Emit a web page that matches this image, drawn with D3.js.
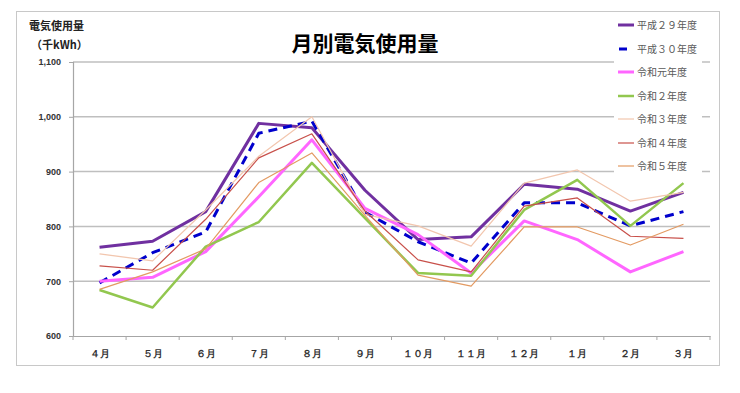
<!DOCTYPE html>
<html><head><meta charset="utf-8">
<script src="https://cdn.jsdelivr.net/npm/d3@7/dist/d3.min.js"></script>
<style>
html,body{margin:0;padding:0;background:#fff;}
svg{display:block;font-family:"Noto Sans CJK JP","Noto Sans",sans-serif;}
</style></head>
<body><svg id="c" width="740" height="393"></svg>
<script>
const months = ["４月","５月","６月","７月","８月","９月","１０月","１１月","１２月","１月","２月","３月"];
const yTicks = [600,700,800,900,1000,1100];
const seriesNames = ["平成２９年度","平成３０年度","令和元年度","令和２年度","令和３年度","令和４年度","令和５年度"];
const h29 = [762,773,827,988,980,866,776,781,877,868,828,862];
const h30 = [697,752,790,970,992,826,772,733,843,843,801,827];
const r1  = [700,707,754,854,958,833,785,715,810,776,717,754];
const r2  = [684,652,763,808,916,815,715,710,830,885,801,879];
const r3  = [750,737,830,928,1000,822,801,764,879,903,846,862];
const r4  = [728,720,813,925,969,828,739,717,837,852,782,778];
const r5  = [685,717,759,880,934,820,711,691,799,799,766,804];

const seriesValues = [h29,h30,r1,r2,r3,r4,r5];
const styles = [
  {color:"#7030A0", w:3, dash:null},
  {color:"#0000CC", w:3, dash:"9,6"},
  {color:"#FF66FF", w:3, dash:null},
  {color:"#92C74F", w:2.5, dash:null},
  {color:"#F2C6AE", w:1.2, dash:null},
  {color:"#C8504A", w:1.2, dash:null},
  {color:"#E39A62", w:1.2, dash:null}
];

const svg = d3.select("#c");
// outer border
svg.append("rect").attr("x",16.5).attr("y",11.5).attr("width",703).attr("height",354)
  .attr("fill","#fff").attr("stroke","#C8C8C8").attr("stroke-width",1);

const x = d3.scaleBand().domain(months).range([73,710]);
const y = d3.scaleLinear().domain([600,1100]).range([336,62]);

// grid
svg.append("g").selectAll("line").data(yTicks.filter(d=>d>600)).join("line")
  .attr("x1",73).attr("x2",710).attr("y1",d=>y(d)).attr("y2",d=>y(d))
  .attr("stroke","#BFBFBF").attr("stroke-width",1.5);

// y axis
const ya = svg.append("g").attr("transform","translate(73,0)")
  .call(d3.axisLeft(y).tickValues(yTicks).tickSize(4).tickPadding(8).tickFormat(d3.format(",")));
ya.select(".domain").attr("stroke","#A6A6A6").attr("stroke-width",1.2);
ya.selectAll(".tick line").attr("stroke","#A6A6A6");
ya.selectAll("text").attr("font-size",9).attr("font-weight","bold").attr("fill","#333")
  .attr("font-family","Liberation Sans, Arial, sans-serif");

// x axis
const xa = svg.append("g").attr("transform","translate(0,336)")
  .call(d3.axisBottom(x).tickSize(0).tickPadding(14));
xa.select(".domain").attr("stroke","#A6A6A6").attr("stroke-width",1.2);
xa.selectAll("text").attr("font-size",9.5).attr("font-weight","bold").attr("fill","#333");
// tick marks at category boundaries
const bounds = months.map(m=>x(m)).concat([x(months[months.length-1])+x.bandwidth()]);
svg.append("g").selectAll("line").data(bounds).join("line")
  .attr("x1",d=>d).attr("x2",d=>d).attr("y1",336).attr("y2",340)
  .attr("stroke","#A6A6A6").attr("stroke-width",1);

// lines
const line = d3.line().x((d,i)=>x(months[i])+x.bandwidth()/2).y(d=>y(d));
seriesValues.forEach((vals,i)=>{
  const p = svg.append("path").datum(vals).attr("d",line).attr("fill","none")
    .attr("stroke",styles[i].color).attr("stroke-width",styles[i].w)
    .attr("stroke-linejoin","round");
  if(styles[i].dash) p.attr("stroke-dasharray",styles[i].dash);
});

// legend
svg.append("rect").attr("x",614).attr("y",14).attr("width",88).attr("height",164).attr("fill","#fff");
const lg = svg.append("g");
const ly = [25,49,72,96,119,143,166];
seriesNames.forEach((n,i)=>{
  const g = lg.append("g").attr("transform",`translate(0,${ly[i]})`);
  const l = g.append("line").attr("x1",618).attr("x2",634).attr("y1",0).attr("y2",0)
    .attr("stroke",styles[i].color).attr("stroke-width",styles[i].w);
  if(styles[i].dash) l.attr("x1",619).attr("x2",627);
  g.append("text").attr("x",637).attr("y",3.5).attr("font-size",10).attr("fill","#595959").text(n);
});

// title
svg.append("text").attr("x",365).attr("y",51).attr("text-anchor","middle")
  .attr("font-size",21).attr("font-weight","bold").attr("fill","#000").text("月別電気使用量");
// y label
svg.append("text").attr("x",29).attr("y",30).attr("font-size",11).attr("font-weight","bold")
  .attr("fill","#222").text("電気使用量");
svg.append("text").attr("x",31).attr("y",49).attr("font-size",11).attr("font-weight","bold")
  .attr("fill","#222").text("（千kWh）");
</script></body></html>
